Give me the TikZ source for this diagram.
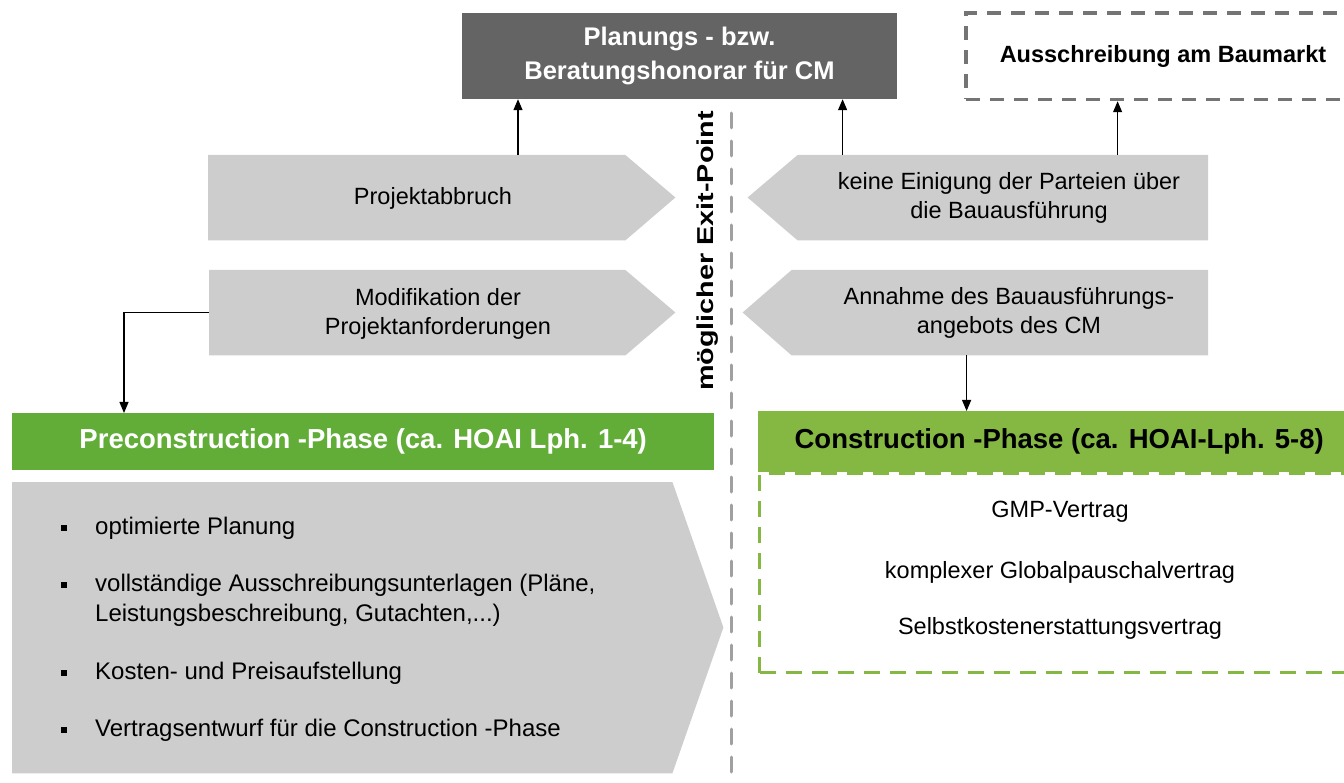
\documentclass[tikz,border=0pt]{standalone}
\usepackage{fontspec}
\usepackage{graphicx}
\setmainfont{Liberation Sans}
\usetikzlibrary{arrows.meta}
\definecolor{honorar}{HTML}{646464}
\definecolor{chev}{HTML}{CDCDCD}
\definecolor{gruenA}{HTML}{62AD38}
\definecolor{gruenB}{HTML}{85B843}
\definecolor{strich}{HTML}{A0A0A0}
\definecolor{rahmen}{HTML}{747474}

\begin{document}
\begin{tikzpicture}[x=1pt,y=-1pt,
  txt/.style={font=\fontsize{23.5}{29}\selectfont, align=center, inner sep=0},
  bartxt/.style={font=\fontsize{24}{30}\selectfont, align=left, inner sep=0, anchor=west},
  bar/.style={draw=none, inner sep=0, anchor=north west},
  arr/.style={line width=1.2pt, -{Triangle[length=11pt,width=9pt]}},
  bull/.style={fill=black, minimum size=6.5pt, inner sep=0},
  header/.style={anchor=north west, inner sep=0, font=\bfseries\fontsize{27.5}{33}\selectfont},
 ]
\clip (0,0) rectangle (1344,783);

% fee box at the top
\node[fill=honorar, minimum width=435pt, minimum height=86pt, inner sep=0,
      font=\bfseries\fontsize{25.5}{34}\selectfont, text=white, align=center]
  (hon) at (679.5,56) {Planungs - bzw.\\Beratungshonorar für CM};

% tender box (dashed)
\node[draw=rahmen, line width=3.5pt, dash pattern=on 14pt off 10pt,
      minimum width=394pt, minimum height=86.5pt, inner sep=0,
      font=\bfseries\fontsize{23.5}{28}\selectfont]
  (aus) at (1163,56.25) {Ausschreibung am Baumarkt};

% left chevrons (pointing right)
\node[bar, minimum width=417pt, minimum height=85pt] (abbr) at (208,155) {};
\fill[chev] (abbr.north west) -- (abbr.north east) -- ++(50,42.5) -- (abbr.south east) -- (abbr.south west) -- cycle;
\node[txt] (abbrT) at (433,198) {Projektabbruch};

\node[bar, minimum width=416pt, minimum height=85pt] (modi) at (209,270) {};
\fill[chev] (modi.north west) -- (modi.north east) -- ++(50,42.5) -- (modi.south east) -- (modi.south west) -- cycle;
\node[txt] (modiT) at (438,314) {Modifikation der\\Projektanforderungen};

% right chevrons (pointing left)
\node[bar, anchor=north east, minimum width=410pt, minimum height=85pt] (kein) at (1208,155) {};
\fill[chev] (kein.north east) -- (kein.north west) -- ++(-50,42.5) -- (kein.south west) -- (kein.south east) -- cycle;
\node[txt] (keinT) at (1009,198) {keine Einigung der Parteien über\\die Bauausführung};

\node[bar, anchor=north east, minimum width=416pt, minimum height=85pt] (annahme) at (1208,270) {};
\fill[chev] (annahme.north east) -- (annahme.north west) -- ++(-49,42.5) -- (annahme.south west) -- (annahme.south east) -- cycle;
\node[txt] (annahmeT) at (1009,312.5) {Annahme des Bauausführungs-\\angebots des CM};

% exit line and label
\coordinate (exitTop) at (731,113);
\coordinate (exitBot) at (731,800);
\draw[strich, line width=3pt, line cap=round, dash pattern=on 15pt off 13pt] (exitTop) -- (exitBot);
\node[rotate=90, font=\bfseries\fontsize{23}{26}\selectfont, inner sep=0]
  (exit) at (708,251) {\scalebox{1.25}[1]{möglicher Exit-Point}};

% preconstruction phase
\node[header, fill=gruenA, text=white, minimum width=702pt, minimum height=57pt]
  (preH) at (12,413) {Preconstruction -Phase (ca. HOAI Lph. 1-4)};
\node[bar, minimum width=660pt, minimum height=291pt] (pre) at (12,482) {};
\fill[chev] (pre.north west) -- (pre.north east) -- ++(51,145.5) -- (pre.south east) -- (pre.south west) -- cycle;

\node[bull] (b1) at (64,528) {};
\node[bartxt] (t1) at (95,528) {optimierte Planung};
\node[bull] (b2) at (64,585) {};
\node[bartxt] (t2) at (95,600) {vollständige Ausschreibungsunterlagen (Pläne,\\Leistungsbeschreibung, Gutachten,...)};
\node[bull] (b3) at (64,673) {};
\node[bartxt] (t3) at (95,673) {Kosten- und Preisaufstellung};
\node[bull] (b4) at (64,730) {};
\node[bartxt] (t4) at (95,730) {Vertragsentwurf für die Construction -Phase};

% construction phase
\node[header, fill=gruenB, text=black, minimum width=602pt, minimum height=61pt]
  (conH) at (758,411) {Construction -Phase (ca. HOAI-Lph. 5-8)};
\node[draw=gruenB, line width=3pt, dash pattern=on 16pt off 10pt, anchor=north west,
      minimum width=602pt, minimum height=199pt, inner sep=0] (conB) at (758,472) {};
\node[txt] (v1) at (1060,512) {GMP-Vertrag};
\node[txt] (v2) at (1060,572) {komplexer Globalpauschalvertrag};
\node[txt] (v3) at (1060,628) {Selbstkostenerstattungsvertrag};

% connectors
\draw[arr] ([xshift=310pt]abbr.north west) -- ([xshift=310pt]abbr.north west |- hon.south);
\draw[arr] ([xshift=45pt]kein.north west) -- ([xshift=45pt]kein.north west |- hon.south);
\draw[arr] ([xshift=320pt]kein.north west) -- ([xshift=320pt]kein.north west |- aus.south);
\draw[arr] ([xshift=175pt]annahme.south west) -- ([xshift=175pt]annahme.south west |- conH.north);
\draw[arr] (modi.west) -| ([xshift=112pt]preH.north west);
\end{tikzpicture}
\end{document}
